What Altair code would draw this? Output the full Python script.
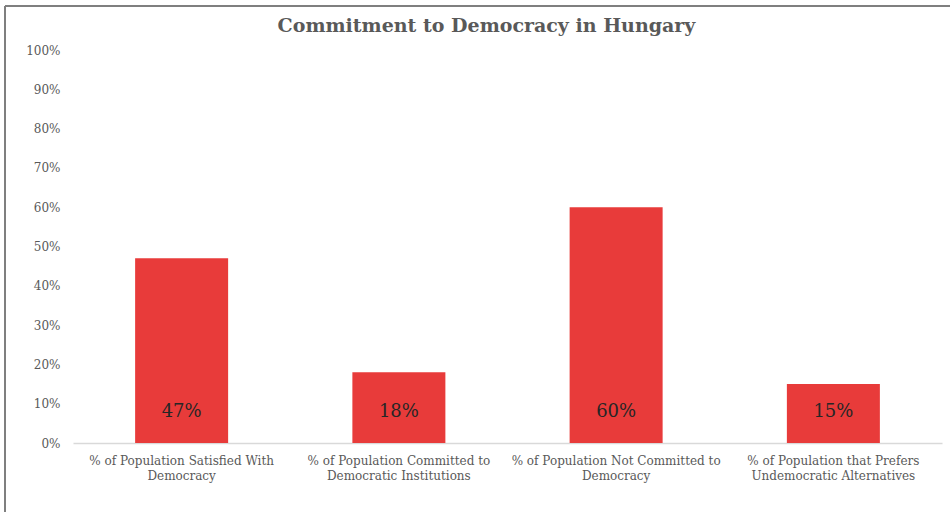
import altair as alt
import pandas as pd

categories = [
    "% of Population Satisfied With\nDemocracy",
    "% of Population Committed to\nDemocratic Institutions",
    "% of Population Not Committed to\nDemocracy",
    "% of Population that Prefers\nUndemocratic Alternatives",
]
values = [47, 18, 60, 15]
labels = ["47%", "18%", "60%", "15%"]
y_ticks = [0, 10, 20, 30, 40, 50, 60, 70, 80, 90, 100]

df = pd.DataFrame({"category": categories, "value": values, "label": labels})

W, H = 869, 393
FONT = "DejaVu Serif"
GRAY = "#595959"

base = alt.Chart(df)

x = alt.X("category:N", sort=categories, title=None,
          scale=alt.Scale(paddingInner=0, paddingOuter=0),
          axis=alt.Axis(labelAngle=0, labelExpr="split(datum.label, '\\n')",
                        ticks=False, domainColor="#d9d9d9", domainWidth=1.5,
                        labelPadding=12, labelFont=FONT, labelFontSize=12,
                        labelColor=GRAY, labelLineHeight=15, labelLimit=300))

bars = base.mark_bar(color="#E83B3A", size=93).encode(
    x=x,
    y=alt.Y("value:Q", title=None,
            scale=alt.Scale(domain=[0, 100], nice=False),
            axis=alt.Axis(values=y_ticks, labelExpr="datum.value + '%'",
                          labelOverlap=False,
                          domain=False, ticks=False, grid=False,
                          labelPadding=13, labelFont=FONT, labelFontSize=12,
                          labelColor=GRAY)),
)

text = base.mark_text(font=FONT, fontSize=18, color="#262626",
                      baseline="middle").encode(
    x=x,
    y=alt.value(H - 31),
    text="label:N",
)

border_df = pd.DataFrame({"k": [0]})
border_top = alt.Chart(border_df).mark_rule(color="#7f7f7f", strokeWidth=2).encode(
    x=alt.value(-68), x2=alt.value(W + 10), y=alt.value(-44))
border_left = alt.Chart(border_df).mark_rule(color="#7f7f7f", strokeWidth=2).encode(
    x=alt.value(-68), y=alt.value(-44), y2=alt.value(H + 75))

chart = alt.layer(bars, text, border_top, border_left).properties(
    width=W, height=H,
    title=alt.TitleParams("Commitment to Democracy in Hungary", font=FONT,
                          fontSize=19, fontWeight="bold", color=GRAY,
                          anchor="middle", dx=-21, offset=-31),
    autosize=alt.AutoSizeParams(type="none"),
    padding={"left": 73, "top": 50, "right": 8, "bottom": 69},
).configure_view(strokeWidth=0).configure_axisY(labelOverlap=False)

chart.save("out.html", embed_options={"renderer": "svg", "actions": False})
